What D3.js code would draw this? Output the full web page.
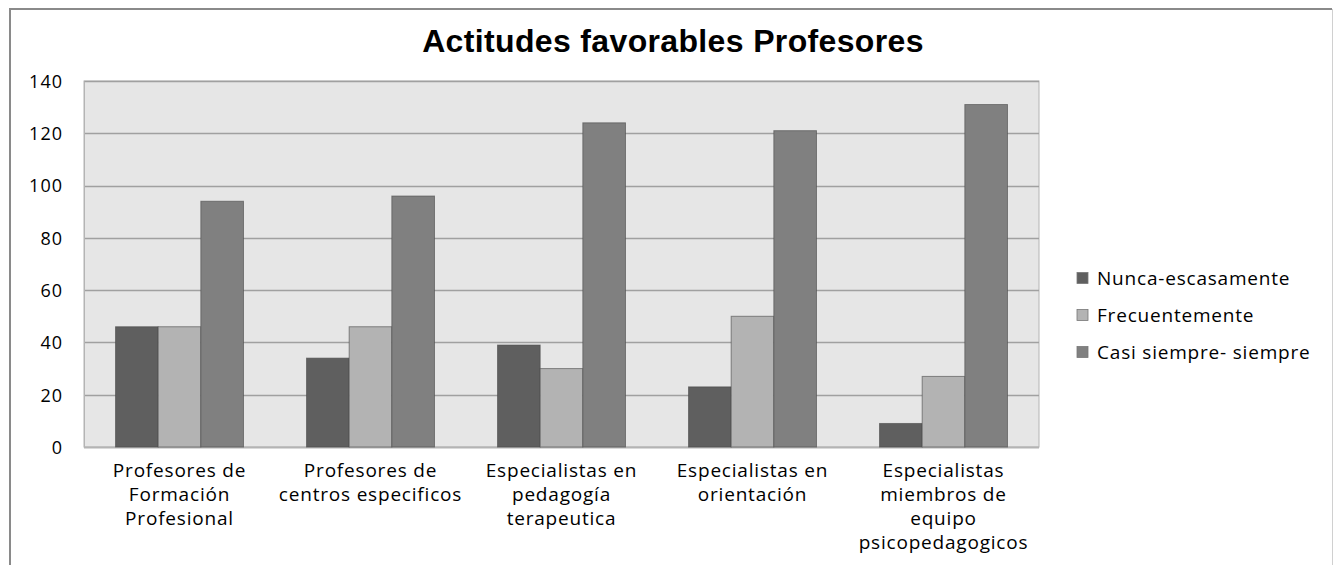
<!DOCTYPE html>
<html>
<head>
<meta charset="utf-8">
<script src="https://d3js.org/d3.v7.min.js"></script>
<style>
  body { margin: 0; background: #fff; }
  text { font-family: "Open Sans", Lato, sans-serif; fill: #000; }
</style>
</head>
<body>
<div id="container"></div>
<script>
// data
var categories = ["pf", "pce", "ept", "eo", "emep"];
var categoryLines = [
  ["Profesores de", "Formación", "Profesional"],
  ["Profesores de", "centros especificos"],
  ["Especialistas en", "pedagogía", "terapeutica"],
  ["Especialistas en", "orientación"],
  ["Especialistas", "miembros de", "equipo", "psicopedagogicos"]
];
var seriesNames = ["Nunca-escasamente", "Frecuentemente", "Casi siempre- siempre"];
var nunca = [46, 34, 39, 23, 9];
var frecuente = [46, 46, 30, 50, 27];
var casiSiempre = [94, 96, 124, 121, 131];
var yTicks = [0, 20, 40, 60, 80, 100, 120, 140];
var colors = ["#5f5f5f", "#b3b3b3", "#808080"];

var W = 1333, H = 565;
var margin = {top: 81, left: 84, right: 294, bottom: 118};

var svg = d3.select("#container")
  .append("svg")
    .attr("width", W)
    .attr("height", H);

// outer chart frame
svg.append("line").attr("x1", 10).attr("x2", 1332).attr("y1", 9).attr("y2", 9)
  .attr("stroke", "#8a8a8a").attr("stroke-width", 2);
svg.append("line").attr("x1", 10).attr("x2", 10).attr("y1", 8).attr("y2", H)
  .attr("stroke", "#8a8a8a").attr("stroke-width", 2);
svg.append("line").attr("x1", 1332.5).attr("x2", 1332.5).attr("y1", 9).attr("y2", H)
  .attr("stroke", "#d0d0d0").attr("stroke-width", 1);

// title
svg.append("text")
  .attr("x", 673)
  .attr("y", 52)
  .attr("text-anchor", "middle")
  .style("font-family", "'Liberation Sans', Arial, sans-serif")
  .style("font-weight", "bold")
  .style("font-size", "32px")
  .style("letter-spacing", "0.35px")
  .text("Actitudes favorables Profesores");

var x = d3.scaleBand()
  .domain(categories)
  .range([margin.left, W - margin.right])
  .paddingInner(0.33)
  .paddingOuter(0.165);

var xs = d3.scaleBand()
  .domain(seriesNames)
  .range([0, x.bandwidth()]);

var y = d3.scaleLinear()
  .domain([0, 140])
  .range([H - margin.bottom, margin.top]);

// plot background
svg.append("rect")
  .attr("x", margin.left)
  .attr("y", margin.top)
  .attr("width", W - margin.right - margin.left)
  .attr("height", y(0) - margin.top)
  .attr("fill", "#e6e6e6")
  .attr("stroke", "#b4b4b4");

// gridlines
svg.append("g")
  .selectAll("line")
  .data(yTicks)
  .enter()
  .append("line")
    .attr("x1", margin.left)
    .attr("x2", W - margin.right)
    .attr("y1", function (d) { return Math.round(y(d)) + 0.5; })
    .attr("y2", function (d) { return Math.round(y(d)) + 0.5; })
    .attr("stroke", function (d) { return d === 0 ? "#b4b4b4" : "#a0a0a0"; })
    .attr("stroke-width", function (d) { return d === 0 ? 2 : 1.5; });

// Y axis
var yAxis = svg.append("g")
  .attr("transform", "translate(" + margin.left + ",0)")
  .call(d3.axisLeft(y).tickValues(yTicks).tickSize(0).tickPadding(21));
yAxis.select(".domain").attr("stroke", "#b4b4b4");
yAxis.selectAll("text")
  .style("font-family", "'Open Sans', Lato, sans-serif")
  .style("font-size", "18px")
  .style("letter-spacing", "1px")
  .attr("dy", "0.35em");

// bars
var table = categories.map(function (c, i) {
  return {cat: c, values: [nunca[i], frecuente[i], casiSiempre[i]]};
});

var groups = svg.append("g")
  .selectAll("g")
  .data(table)
  .enter()
  .append("g")
    .attr("transform", function (d) { return "translate(" + x(d.cat) + ",0)"; });

groups.selectAll("rect")
  .data(function (d) {
    return d.values.map(function (v, j) { return {s: seriesNames[j], v: v, j: j}; });
  })
  .enter()
  .append("rect")
    .attr("x", function (d) { return xs(d.s); })
    .attr("y", function (d) { return y(d.v); })
    .attr("width", xs.bandwidth())
    .attr("height", function (d) { return y(0) - y(d.v); })
    .attr("fill", function (d) { return colors[d.j]; })
    .attr("stroke", "#4a4a4a")
    .attr("stroke-opacity", 0.6)
    .attr("stroke-width", 1);

// category labels
var labels = svg.append("g")
  .selectAll("text")
  .data(categories)
  .enter()
  .append("text")
    .attr("x", function (d) { return x(d) + x.bandwidth() / 2; })
    .attr("y", 477)
    .attr("text-anchor", "middle")
    .style("font-size", "19px")
    .style("letter-spacing", "0.8px");
labels.each(function (d, i) {
  var t = d3.select(this);
  categoryLines[i].forEach(function (line, k) {
    t.append("tspan")
      .attr("x", x(d) + x.bandwidth() / 2)
      .attr("dy", k === 0 ? 0 : 24)
      .text(line);
  });
});

// legend
var legend = svg.append("g")
  .selectAll("g")
  .data(seriesNames)
  .enter()
  .append("g")
    .attr("transform", function (d, i) { return "translate(1077," + (278 + i * 37) + ")"; });
legend.append("rect")
  .attr("x", 0)
  .attr("y", -5.5)
  .attr("width", 11)
  .attr("height", 11)
  .attr("fill", function (d, i) { return colors[i]; })
  .attr("stroke", "#777")
  .attr("stroke-width", 0.8);
legend.append("text")
  .attr("x", 20)
  .attr("y", 0)
  .attr("dy", "0.35em")
  .style("font-size", "19px")
  .style("letter-spacing", "0.8px")
  .text(function (d) { return d; });
</script>
</body>
</html>
